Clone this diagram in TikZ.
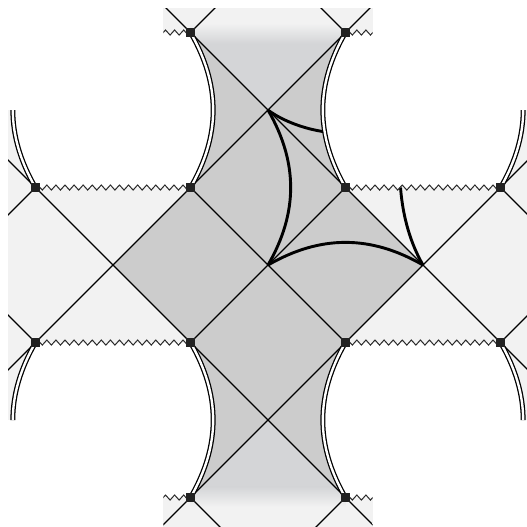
\documentclass[tikz,border=0pt]{standalone}
\usepackage{tikz}
\usepackage{xcolor}
\usetikzlibrary{decorations.pathmorphing}

\definecolor{bandgray}{HTML}{F2F2F2}
\definecolor{coregray}{HTML}{CCCCCC}
\definecolor{armgray}{HTML}{D4D5D7}
\definecolor{dotgray}{HTML}{222222}
\definecolor{singgray}{HTML}{2A2A2A}

\begin{document}
\begin{tikzpicture}[x=3cm,y=3cm,
  nullline/.style={line width=0.65pt},
  bdry/.style={line width=0.7pt,double=white,double distance=1.3pt},
  sing/.style={draw=singgray,line width=0.55pt,decorate,decoration={zigzag,segment length=5pt,amplitude=1.4pt}},
  geo/.style={line width=1.6pt},
  dot/.style={fill=dotgray,inner sep=0pt,minimum size=4.6pt}]
  \useasboundingbox (-1.729,-1.690) rectangle (1.665,1.710);
  \coordinate (t0) at (-1.5,1.5);
  \coordinate (t1) at (-0.5,1.5);
  \coordinate (t2) at (0.5,1.5);
  \coordinate (t3) at (1.5,1.5);
  \coordinate (u0) at (-1.5,0.5);
  \coordinate (u1) at (-0.5,0.5);
  \coordinate (u2) at (0.5,0.5);
  \coordinate (u3) at (1.5,0.5);
  \coordinate (d0) at (-1.5,-0.5);
  \coordinate (d1) at (-0.5,-0.5);
  \coordinate (d2) at (0.5,-0.5);
  \coordinate (d3) at (1.5,-0.5);
  \coordinate (b0) at (-1.5,-1.5);
  \coordinate (b1) at (-0.5,-1.5);
  \coordinate (b2) at (0.5,-1.5);
  \coordinate (b3) at (1.5,-1.5);
  \coordinate (N) at (0,1);
  \coordinate (E) at (1,0);
  \coordinate (S) at (0,-1);
  \coordinate (W) at (-1,0);
  \coordinate (O) at (0,0);
  \coordinate (g1) at (0.365,0.86);
  \coordinate (g2) at (0.855,0.5);

  \fill[bandgray] (-1.677,-1) rectangle (1.677,1);
  \fill[bandgray] (-0.675,-1.75) rectangle (0.675,1.658);
  \fill[coregray] (W) -- (N) -- (E) -- (S) -- cycle;
  \fill[coregray] (u1) to[bend right=30] (t1) -- (t2) to[bend right=30] (u2) -- cycle;
  \fill[coregray] (d1) to[bend left=30] (b1) -- (b2) to[bend left=30] (d2) -- cycle;
  \fill[armgray] (N) -- (t2) -- (t1) -- cycle;
  \fill[armgray] (S) -- (b2) -- (b1) -- cycle;
  \shade[bottom color=armgray,top color=bandgray] (-0.5,1.43) rectangle (0.5,1.56);
  \shade[top color=armgray,bottom color=bandgray] (-0.5,-1.56) rectangle (0.5,-1.43);

  \begin{scope}
    \clip (-1.677,-1) rectangle (1.677,1) (-0.675,-1.75) rectangle (0.675,1.658);
    \foreach \n in {-3,...,3} {
      \draw[nullline] (\n-2,2) -- (\n+2,-2);
      \draw[nullline] (\n-2,-2) -- (\n+2,2);
    }
  \end{scope}

  \foreach \cx/\cy in {-1/1,1/1,-1/-1,1/-1} {
    \fill[white] (\cx-0.5,\cy-0.5) -- (\cx+0.5,\cy-0.5) to[bend right=30] (\cx+0.5,\cy+0.5)
      -- (\cx-0.5,\cy+0.5) to[bend right=30] (\cx-0.5,\cy-0.5) -- cycle;
  }

  \draw[geo] (N) to[bend left=30] (O);
  \draw[geo] (O) to[bend left=30] (E);
  \draw[geo] (N) .. controls (0.1,0.925) and (0.25,0.875) .. (g1);
  \draw[geo] (E) .. controls (0.925,0.13) and (0.87,0.3) .. (g2);

  \begin{scope}
    \clip (-1.677,-1) rectangle (1.677,1) (-0.675,-1.75) rectangle (0.675,1.658);
    \draw[bdry] (u1) to[bend right=30] (t1);
    \draw[bdry] (u2) to[bend left=30] (t2);
    \draw[bdry] (u0) to[bend left=30] (t0);
    \draw[bdry] (u3) to[bend right=30] (t3);
    \draw[bdry] (d1) to[bend left=30] (b1);
    \draw[bdry] (d2) to[bend right=30] (b2);
    \draw[bdry] (d0) to[bend right=30] (b0);
    \draw[bdry] (d3) to[bend left=30] (b3);
    \draw[sing] (u0) -- (u1);
    \draw[sing] (u2) -- (u3);
    \draw[sing] (d0) -- (d1);
    \draw[sing] (d2) -- (d3);
    \draw[sing] (t1) -- (t0);
    \draw[sing] (t2) -- (t3);
    \draw[sing] (b1) -- (b0);
    \draw[sing] (b2) -- (b3);
  \end{scope}

  \foreach \p in {t1,t2,u0,u1,u2,u3,d0,d1,d2,d3,b1,b2}
    \node[dot] (m\p) at (\p) {};
\end{tikzpicture}
\end{document}
